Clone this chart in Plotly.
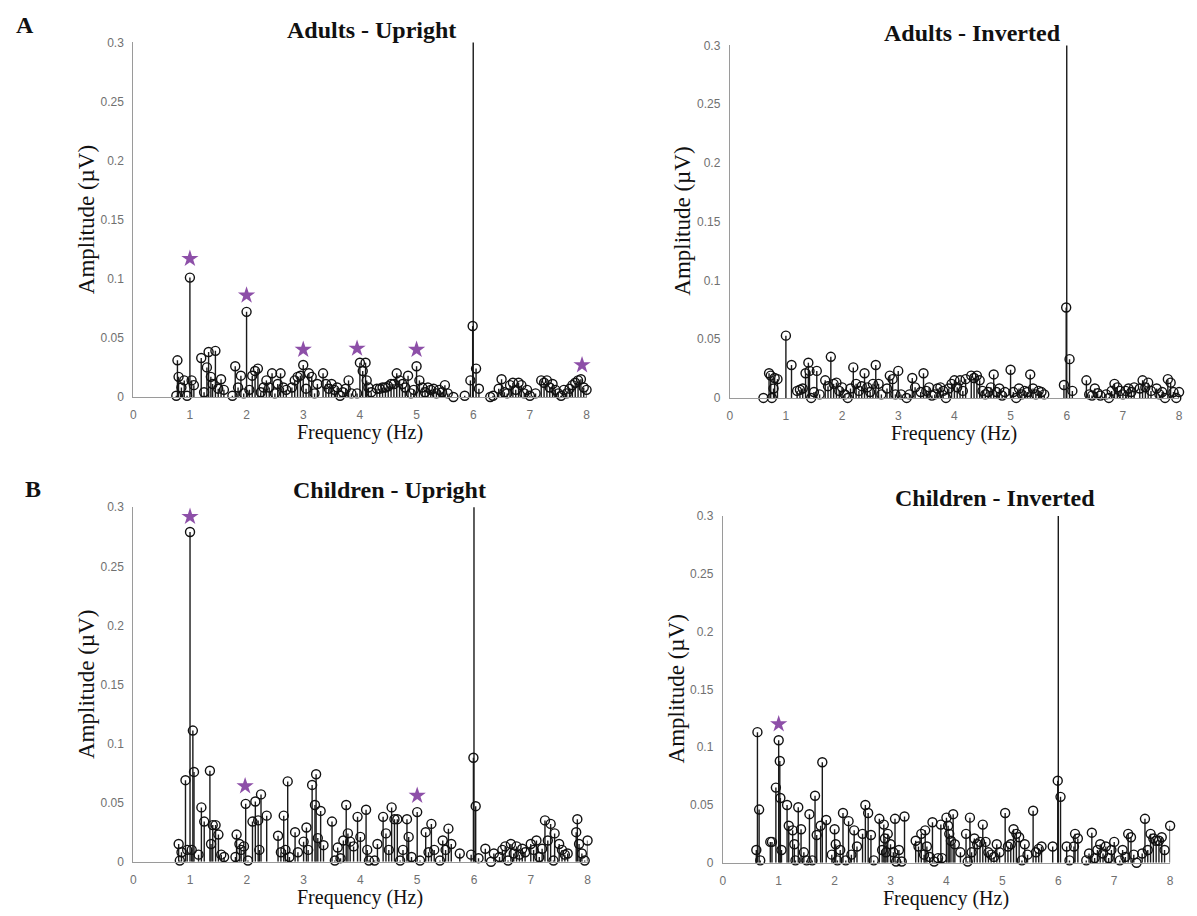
import plotly.graph_objects as go

# ---------------- data (frequency Hz, amplitude µV) ----------------
ADULTS_UPRIGHT = [
    (0.76, 0.001), (0.78, 0.031), (0.80, 0.017), (0.85, 0.008), (0.90, 0.014), (0.95, 0.001),
    (1.00, 0.101), (1.03, 0.014), (1.07, 0.010), (1.20, 0.033), (1.25, 0.004), (1.30, 0.025),
    (1.33, 0.038), (1.37, 0.017), (1.40, 0.011), (1.45, 0.039), (1.50, 0.007), (1.55, 0.015),
    (1.60, 0.006), (1.75, 0.001), (1.80, 0.026), (1.85, 0.008), (1.90, 0.018), (1.95, 0.003),
    (2.00, 0.072), (2.05, 0.006), (2.10, 0.018), (2.15, 0.022), (2.20, 0.024), (2.25, 0.004),
    (2.30, 0.008), (2.35, 0.014), (2.40, 0.008), (2.45, 0.020), (2.50, 0.003), (2.55, 0.011),
    (2.60, 0.020), (2.65, 0.008), (2.70, 0.006), (2.80, 0.008), (2.85, 0.014), (2.90, 0.017),
    (2.95, 0.018), (3.00, 0.027), (3.05, 0.007), (3.10, 0.020), (3.15, 0.017), (3.20, 0.003),
    (3.25, 0.011), (3.35, 0.020), (3.40, 0.011), (3.45, 0.007), (3.50, 0.011), (3.55, 0.006),
    (3.60, 0.008), (3.65, 0.001), (3.70, 0.004), (3.75, 0.007), (3.80, 0.014), (3.85, 0.003),
    (3.95, 0.003), (4.00, 0.029), (4.05, 0.022), (4.10, 0.029), (4.12, 0.014), (4.15, 0.008),
    (4.20, 0.004), (4.30, 0.007), (4.35, 0.007), (4.40, 0.008), (4.45, 0.008), (4.50, 0.009),
    (4.55, 0.011), (4.60, 0.011), (4.65, 0.020), (4.70, 0.014), (4.75, 0.011), (4.80, 0.008),
    (4.85, 0.018), (4.90, 0.003), (4.95, 0.006), (5.00, 0.026), (5.05, 0.014), (5.10, 0.008),
    (5.15, 0.004), (5.20, 0.008), (5.25, 0.006), (5.30, 0.007), (5.35, 0.003), (5.40, 0.006),
    (5.45, 0.004), (5.50, 0.010), (5.55, 0.003), (5.65, 0.000), (5.85, 0.001), (5.95, 0.014),
    (5.99, 0.060), (6.00, 0.600), (6.05, 0.024), (6.10, 0.007), (6.30, 0.000), (6.35, 0.001),
    (6.45, 0.007), (6.50, 0.015), (6.55, 0.004), (6.60, 0.003), (6.65, 0.010), (6.70, 0.012),
    (6.75, 0.006), (6.80, 0.012), (6.85, 0.010), (6.90, 0.003), (6.95, 0.006), (7.00, 0.001),
    (7.10, 0.003), (7.20, 0.014), (7.25, 0.012), (7.30, 0.014), (7.35, 0.008), (7.40, 0.011),
    (7.45, 0.006), (7.50, 0.003), (7.55, 0.001), (7.60, 0.006), (7.65, 0.003), (7.70, 0.007),
    (7.75, 0.010), (7.80, 0.012), (7.85, 0.014), (7.90, 0.015), (7.95, 0.008), (8.00, 0.006),
]

ADULTS_INVERTED = [
    (0.60, 0.000), (0.70, 0.021), (0.73, 0.019), (0.75, 0.000), (0.78, 0.008), (0.80, 0.017),
    (0.85, 0.016), (1.00, 0.053), (1.10, 0.028), (1.20, 0.006), (1.25, 0.007), (1.30, 0.008),
    (1.35, 0.021), (1.40, 0.030), (1.42, 0.023), (1.45, 0.000), (1.50, 0.005), (1.55, 0.023),
    (1.60, 0.003), (1.70, 0.015), (1.75, 0.010), (1.80, 0.035), (1.85, 0.012), (1.90, 0.013),
    (1.95, 0.006), (2.00, 0.009), (2.05, 0.003), (2.10, 0.000), (2.15, 0.008), (2.20, 0.026),
    (2.25, 0.012), (2.30, 0.006), (2.35, 0.010), (2.40, 0.021), (2.45, 0.009), (2.50, 0.005),
    (2.55, 0.012), (2.60, 0.028), (2.65, 0.012), (2.70, 0.003), (2.80, 0.008), (2.85, 0.019),
    (2.90, 0.016), (2.95, 0.003), (3.00, 0.023), (3.05, 0.003), (3.15, 0.000), (3.20, 0.003),
    (3.25, 0.017), (3.30, 0.009), (3.40, 0.005), (3.45, 0.021), (3.50, 0.006), (3.55, 0.009),
    (3.60, 0.002), (3.65, 0.003), (3.70, 0.008), (3.75, 0.009), (3.80, 0.006), (3.85, 0.000),
    (3.90, 0.008), (3.95, 0.012), (4.00, 0.015), (4.05, 0.009), (4.10, 0.015), (4.15, 0.006),
    (4.20, 0.016), (4.30, 0.019), (4.35, 0.017), (4.40, 0.019), (4.45, 0.015), (4.50, 0.006),
    (4.55, 0.003), (4.60, 0.005), (4.65, 0.009), (4.70, 0.020), (4.75, 0.005), (4.80, 0.008),
    (4.85, 0.002), (4.90, 0.005), (5.00, 0.024), (5.05, 0.005), (5.10, 0.000), (5.15, 0.008),
    (5.20, 0.003), (5.25, 0.006), (5.30, 0.005), (5.35, 0.020), (5.40, 0.008), (5.45, 0.003),
    (5.50, 0.006), (5.55, 0.005), (5.60, 0.003), (5.95, 0.011), (5.99, 0.077), (6.00, 0.600),
    (6.05, 0.033), (6.10, 0.006), (6.35, 0.015), (6.40, 0.003), (6.45, 0.002), (6.50, 0.008),
    (6.55, 0.004), (6.60, 0.002), (6.70, 0.003), (6.75, 0.000), (6.80, 0.006), (6.85, 0.012),
    (6.90, 0.009), (6.95, 0.006), (7.00, 0.003), (7.05, 0.006), (7.10, 0.008), (7.15, 0.005),
    (7.20, 0.009), (7.30, 0.008), (7.35, 0.015), (7.40, 0.009), (7.45, 0.013), (7.50, 0.006),
    (7.60, 0.008), (7.65, 0.003), (7.70, 0.005), (7.75, 0.000), (7.80, 0.016), (7.85, 0.013),
    (7.90, 0.005), (7.95, 0.000), (8.00, 0.005),
]

CHILDREN_UPRIGHT = [
    (0.80, 0.015), (0.82, 0.001), (0.85, 0.008), (0.92, 0.069), (0.95, 0.010), (1.00, 0.279),
    (1.03, 0.010), (1.05, 0.111), (1.07, 0.076), (1.15, 0.006), (1.20, 0.046), (1.25, 0.034),
    (1.35, 0.077), (1.37, 0.015), (1.40, 0.031), (1.45, 0.031), (1.50, 0.023), (1.55, 0.006),
    (1.60, 0.004), (1.80, 0.004), (1.82, 0.023), (1.87, 0.015), (1.90, 0.010), (1.95, 0.013),
    (1.98, 0.049), (2.02, 0.001), (2.10, 0.034), (2.15, 0.051), (2.20, 0.035), (2.22, 0.010),
    (2.25, 0.057), (2.35, 0.039), (2.55, 0.022), (2.60, 0.008), (2.65, 0.039), (2.68, 0.010),
    (2.72, 0.068), (2.75, 0.004), (2.85, 0.025), (2.90, 0.008), (3.00, 0.017), (3.05, 0.029),
    (3.08, 0.010), (3.15, 0.065), (3.20, 0.048), (3.22, 0.074), (3.25, 0.020), (3.30, 0.043),
    (3.35, 0.014), (3.50, 0.034), (3.55, 0.001), (3.60, 0.012), (3.65, 0.003), (3.70, 0.018),
    (3.75, 0.048), (3.78, 0.024), (3.82, 0.017), (3.88, 0.013), (3.95, 0.038), (4.00, 0.021),
    (4.10, 0.044), (4.12, 0.010), (4.15, 0.001), (4.25, 0.001), (4.30, 0.015), (4.40, 0.038),
    (4.45, 0.024), (4.50, 0.010), (4.55, 0.046), (4.60, 0.036), (4.65, 0.036), (4.70, 0.001),
    (4.75, 0.010), (4.82, 0.036), (4.85, 0.021), (4.90, 0.004), (5.00, 0.042), (5.05, 0.001),
    (5.15, 0.025), (5.20, 0.008), (5.25, 0.032), (5.30, 0.010), (5.40, 0.001), (5.45, 0.018),
    (5.50, 0.010), (5.55, 0.028), (5.60, 0.015), (5.75, 0.007), (5.95, 0.006), (5.99, 0.088),
    (6.00, 0.600), (6.03, 0.047), (6.08, 0.003), (6.20, 0.011), (6.30, 0.000), (6.35, 0.007),
    (6.45, 0.004), (6.50, 0.010), (6.55, 0.013), (6.60, 0.001), (6.65, 0.015), (6.70, 0.007),
    (6.75, 0.013), (6.80, 0.006), (6.85, 0.011), (6.90, 0.008), (7.00, 0.015), (7.05, 0.010),
    (7.10, 0.018), (7.15, 0.004), (7.20, 0.011), (7.25, 0.035), (7.30, 0.018), (7.35, 0.032),
    (7.40, 0.001), (7.42, 0.024), (7.50, 0.015), (7.55, 0.010), (7.60, 0.006), (7.65, 0.007),
    (7.80, 0.025), (7.82, 0.036), (7.85, 0.015), (7.90, 0.007), (7.95, 0.001), (8.00, 0.018),
]

CHILDREN_INVERTED = [
    (0.60, 0.011), (0.62, 0.113), (0.65, 0.046), (0.67, 0.002), (0.85, 0.018), (0.88, 0.018),
    (0.95, 0.065), (1.00, 0.106), (1.02, 0.088), (1.03, 0.056), (1.05, 0.011), (1.15, 0.050),
    (1.18, 0.032), (1.25, 0.028), (1.28, 0.016), (1.30, 0.002), (1.35, 0.048), (1.40, 0.029),
    (1.45, 0.009), (1.50, 0.002), (1.55, 0.042), (1.60, 0.002), (1.65, 0.058), (1.68, 0.024),
    (1.75, 0.032), (1.78, 0.087), (1.85, 0.037), (1.95, 0.007), (2.00, 0.029), (2.02, 0.016),
    (2.05, 0.002), (2.10, 0.011), (2.15, 0.043), (2.20, 0.002), (2.25, 0.036), (2.30, 0.007),
    (2.35, 0.028), (2.40, 0.014), (2.50, 0.025), (2.55, 0.050), (2.60, 0.043), (2.65, 0.024),
    (2.70, 0.002), (2.80, 0.038), (2.85, 0.011), (2.88, 0.033), (2.90, 0.021), (2.92, 0.009),
    (2.95, 0.025), (3.00, 0.016), (3.05, 0.009), (3.08, 0.038), (3.10, 0.001), (3.15, 0.011),
    (3.20, 0.001), (3.25, 0.040), (3.45, 0.019), (3.50, 0.014), (3.55, 0.025), (3.60, 0.007),
    (3.62, 0.028), (3.65, 0.014), (3.70, 0.005), (3.75, 0.035), (3.78, 0.001), (3.85, 0.004),
    (3.90, 0.033), (3.92, 0.004), (4.00, 0.039), (4.03, 0.032), (4.05, 0.025), (4.08, 0.019),
    (4.12, 0.042), (4.15, 0.016), (4.25, 0.009), (4.35, 0.025), (4.38, 0.001), (4.42, 0.039),
    (4.45, 0.009), (4.50, 0.021), (4.55, 0.016), (4.60, 0.018), (4.65, 0.033), (4.70, 0.018),
    (4.75, 0.009), (4.80, 0.007), (4.85, 0.005), (4.90, 0.016), (4.95, 0.009), (5.05, 0.043),
    (5.10, 0.014), (5.15, 0.016), (5.20, 0.029), (5.25, 0.025), (5.30, 0.022), (5.35, 0.002),
    (5.40, 0.016), (5.45, 0.007), (5.55, 0.045), (5.60, 0.009), (5.65, 0.012), (5.70, 0.014),
    (5.90, 0.014), (5.99, 0.071), (6.00, 0.600), (6.04, 0.057), (6.15, 0.014), (6.20, 0.002),
    (6.28, 0.014), (6.30, 0.025), (6.35, 0.021), (6.50, 0.002), (6.55, 0.008), (6.60, 0.026),
    (6.65, 0.004), (6.70, 0.011), (6.75, 0.016), (6.80, 0.008), (6.85, 0.014), (6.90, 0.004),
    (6.95, 0.011), (7.00, 0.018), (7.10, 0.002), (7.15, 0.011), (7.20, 0.005), (7.25, 0.025),
    (7.30, 0.022), (7.35, 0.007), (7.40, 0.000), (7.50, 0.008), (7.55, 0.038), (7.60, 0.011),
    (7.65, 0.025), (7.70, 0.021), (7.75, 0.019), (7.80, 0.019), (7.85, 0.022), (7.90, 0.011),
    (8.00, 0.032),
]

# significance stars (frequency, height)
ADULTS_UPRIGHT_STARS = [(1.0, 0.117), (2.0, 0.086), (3.0, 0.040), (3.95, 0.041), (5.0, 0.040), (7.92, 0.027)]
ADULTS_INVERTED_STARS = []
CHILDREN_UPRIGHT_STARS = [(1.0, 0.292), (1.97, 0.064), (5.0, 0.056)]
CHILDREN_INVERTED_STARS = [(1.0, 0.120)]

X_TICKS = [0, 1, 2, 3, 4, 5, 6, 7, 8]
Y_TICKS = [0, 0.05, 0.1, 0.15, 0.2, 0.25, 0.3]
Y_TICK_LABELS = ["0", "0.05", "0.1", "0.15", "0.2", "0.25", "0.3"]
Y_MAX = 0.3

# ---------------- layout (pixel geometry) ----------------
W, H = 1197, 916
SERIF = "Liberation Serif"
SANS = "Liberation Sans"
STAR_COLOR = "#8d4fa8"


def fx(p):
    return p / W


def fy(p):
    return 1 - p / H


PANELS = [
    dict(data=ADULTS_UPRIGHT, stars=ADULTS_UPRIGHT_STARS, title="Adults - Upright",
         left=131, right=587, top=36, bottom=396, tx=371, ty=23),
    dict(data=ADULTS_INVERTED, stars=ADULTS_INVERTED_STARS, title="Adults - Inverted",
         left=731, right=1183, top=39, bottom=397, tx=975, ty=26),
    dict(data=CHILDREN_UPRIGHT, stars=CHILDREN_UPRIGHT_STARS, title="Children - Upright",
         left=131, right=588, top=508, bottom=868, tx=389, ty=490),
    dict(data=CHILDREN_INVERTED, stars=CHILDREN_INVERTED_STARS, title="Children - Inverted",
         left=724, right=1174, top=517, bottom=869, tx=998, ty=499),
]

fig = go.Figure()
annotations = []

for i, p in enumerate(PANELS, start=1):
    xa = "x" if i == 1 else f"x{i}"
    ya = "y" if i == 1 else f"y{i}"
    freqs = [f for f, _ in p["data"]]
    amps = [a for _, a in p["data"]]

    sx, sy = [], []
    for f, a in zip(freqs, amps):
        sx += [f, f, None]
        sy += [0, a, None]
    fig.add_trace(go.Scatter(x=sx, y=sy, mode="lines", xaxis=xa, yaxis=ya,
                             line=dict(color="#1a1a1a", width=1.4),
                             hoverinfo="skip", showlegend=False))
    my = [a if a <= Y_MAX else None for a in amps]
    fig.add_trace(go.Scatter(x=freqs, y=my, mode="markers", xaxis=xa, yaxis=ya,
                             cliponaxis=False,
                             marker=dict(symbol="circle-open", size=9, color="#111111",
                                         line=dict(width=1.4, color="#111111")),
                             showlegend=False))
    if p["stars"]:
        fig.add_trace(go.Scatter(x=[s[0] for s in p["stars"]], y=[s[1] for s in p["stars"]],
                                 mode="markers", xaxis=xa, yaxis=ya, cliponaxis=False,
                                 marker=dict(symbol="star", size=13, color=STAR_COLOR,
                                             line=dict(width=0)),
                                 showlegend=False))

    axis_common = dict(showgrid=False, zeroline=False, showline=True, linecolor="#9a9a9a",
                       linewidth=1, ticks="", tickfont=dict(family=SANS, size=12, color="#707070"))
    fig.layout[f"xaxis{i if i > 1 else ''}"] = dict(
        axis_common, domain=[fx(p["left"]), fx(p["right"])], range=[0, 8],
        tickvals=X_TICKS, ticktext=[str(t) for t in X_TICKS], anchor=ya,
        ticklabelstandoff=7)
    fig.layout[f"yaxis{i if i > 1 else ''}"] = dict(
        axis_common, domain=[fy(p["bottom"]), fy(p["top"])], range=[0, Y_MAX],
        tickvals=Y_TICKS, ticktext=Y_TICK_LABELS, anchor=xa, ticklabelstandoff=6)

    annotations.append(dict(text="<b>" + p["title"] + "</b>", x=fx(p["tx"]), y=fy(p["ty"]),
                            xref="paper", yref="paper", showarrow=False,
                            xanchor="center", yanchor="middle",
                            font=dict(family=SERIF, size=24, color="#111111")))
    annotations.append(dict(text="Amplitude (µV)", x=fx(p["left"] - 47),
                            y=fy((p["top"] + p["bottom"]) / 2),
                            xref="paper", yref="paper", showarrow=False, textangle=-90,
                            xanchor="center", yanchor="middle",
                            font=dict(family=SERIF, size=23, color="#111111")))
    annotations.append(dict(text="Frequency (Hz)", x=fx((p["left"] + p["right"]) / 2),
                            y=fy(p["bottom"] + 36),
                            xref="paper", yref="paper", showarrow=False,
                            xanchor="center", yanchor="middle",
                            font=dict(family=SERIF, size=20, color="#111111")))

annotations.append(dict(text="<b>A</b>", x=fx(22), y=fy(18), xref="paper", yref="paper",
                        showarrow=False, xanchor="center", yanchor="middle",
                        font=dict(family=SERIF, size=24, color="#111111")))
annotations.append(dict(text="<b>B</b>", x=fx(30), y=fy(489), xref="paper", yref="paper",
                        showarrow=False, xanchor="center", yanchor="middle",
                        font=dict(family=SERIF, size=24, color="#111111")))

fig.update_layout(width=W, height=H, margin=dict(l=0, r=0, t=0, b=0),
                  paper_bgcolor="white", plot_bgcolor="white",
                  annotations=annotations, showlegend=False)

fig.write_html("out.html")
